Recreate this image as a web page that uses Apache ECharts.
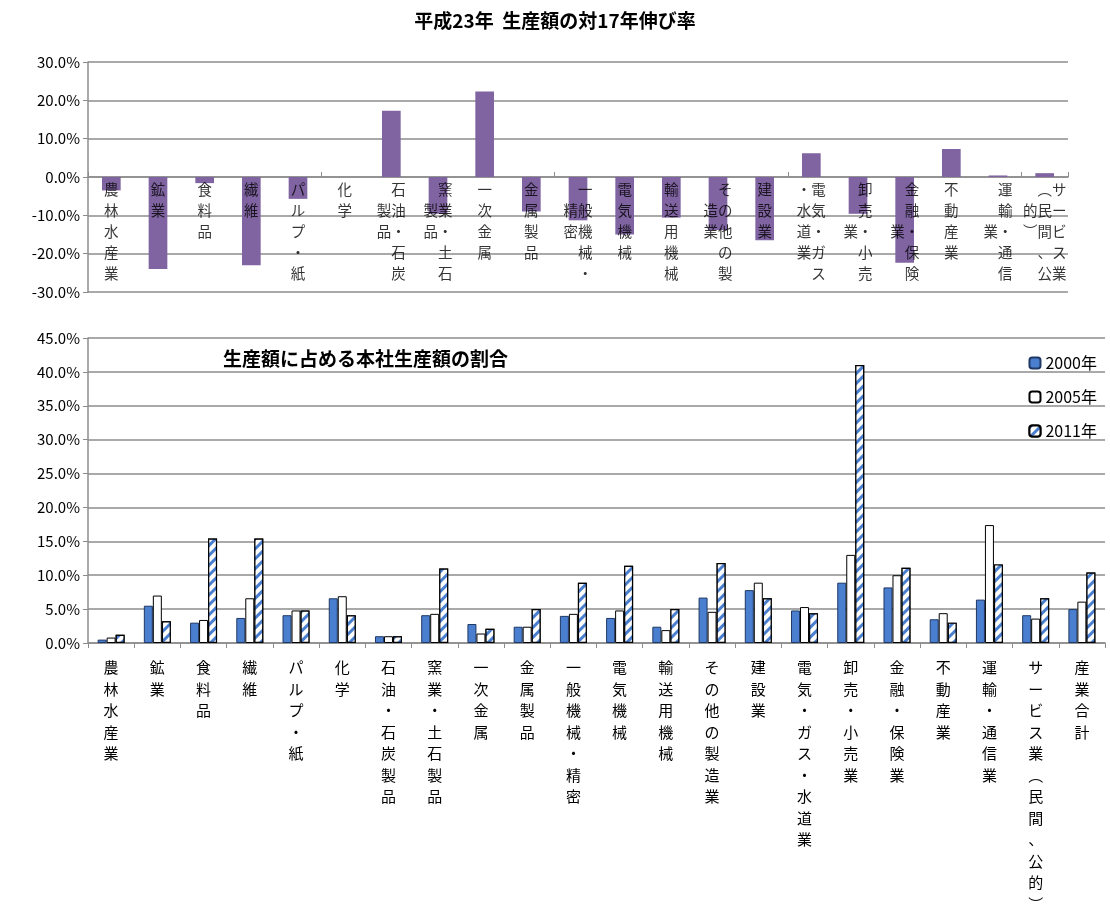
<!DOCTYPE html>
<html lang="ja">
<head>
<meta charset="UTF-8">
<title>生産額</title>
<script src="https://cdn.jsdelivr.net/npm/echarts@6/dist/echarts.min.js"></script>
<style>
  html, body { margin: 0; padding: 0; background: #fff; }
  #chart { width: 1110px; height: 915px; }
</style>
</head>
<body>
<div id="chart"></div>
<script>
    // 上段の分類 (21)
    var topCats = ['農林水産業', '鉱業', '食料品', '繊維', 'パルプ・紙', '化学', '石油・石炭製品', '窯業・土石製品',
        '一次金属', '金属製品', '一般機械・精密', '電気機械', '輸送用機械', 'その他の製造業', '建設業',
        '電気・ガス・水道業', '卸売・小売業', '金融・保険業', '不動産業', '運輸・通信業', 'サービス業︵民間、公的︶'];
    var growth = [-3.5, -24.0, -1.6, -23.0, -5.7, 0.0, 17.3, -9.6, 22.3, -9.0, -11.3, -15.0, -10.6, -13.8, -16.5,
        6.2, -9.6, -22.4, 7.3, 0.4, 1.0];

    // 下段の分類 (22)
    var botCats = topCats.concat(['産業合計']);
    var y2000 = [0.5, 5.5, 3.0, 3.7, 4.1, 6.6, 1.0, 4.1, 2.8, 2.4, 4.0, 3.7, 2.4, 6.7, 7.8, 4.8, 8.9, 8.2, 3.5, 6.4, 4.1, 5.0];
    var y2005 = [0.8, 7.0, 3.4, 6.6, 4.8, 6.9, 1.0, 4.3, 1.4, 2.4, 4.3, 4.8, 1.9, 4.6, 8.9, 5.3, 13.0, 10.0, 4.4, 17.4, 3.6, 6.1];
    var y2011 = [1.2, 3.2, 15.4, 15.4, 4.8, 4.1, 1.0, 11.0, 2.1, 5.0, 8.9, 11.4, 5.0, 11.8, 6.6, 4.4, 41.0, 11.1, 3.0, 11.6, 6.6, 10.4];

    var FONT = '"Noto Sans CJK JP", sans-serif';

    // 縦書き (5文字ごとに右から左へ列を折り返す、空きは透明な文字で埋める)
    function vertWrap(s) {
        var chars = Array.from(s);
        var per = 5;
        if (chars.length <= per) return chars.join('\n');
        var cols = [];
        for (var i = 0; i < chars.length; i += per) cols.push(chars.slice(i, i + per));
        var lines = [];
        for (var r = 0; r < per; r++) {
            var row = [];
            for (var c = cols.length - 1; c >= 0; c--) {
                var col = cols[c];
                var off = Math.floor((per - col.length) / 2);
                var ch = col[r - off];
                row.push(ch ? ch : '{h|口}');
            }
            lines.push(row.join(''));
        }
        return lines.join('\n');
    }
    function vert(s) { return Array.from(s).join('\n'); }

    var chart = echarts.init(document.getElementById('chart'));
    var gridLine = { show: true, lineStyle: { color: '#8c8c8c', width: 1.5 } };
    var axisLine = { show: true, lineStyle: { color: '#8c8c8c', width: 1.5 } };

    chart.setOption({
        animation: false,
        textStyle: { fontFamily: FONT },
        title: [
            { text: '平成23年  生産額の対17年伸び率', left: 'center', top: 6,
              textStyle: { fontSize: 19, fontWeight: 'bold', color: '#000', fontFamily: FONT } },
            { text: '生産額に占める本社生産額の割合', left: 218, top: 344,
              textStyle: { fontSize: 19, fontWeight: 'bold', color: '#000', fontFamily: FONT } }
        ],
        legend: {
            orient: 'vertical', right: 8, top: 350, itemGap: 18, itemWidth: 11, itemHeight: 11,
            textStyle: { fontSize: 16, color: '#000', fontFamily: FONT },
            data: ['2000年', '2005年', '2011年']
        },
        grid: [
            { left: 88, right: 42, top: 62, height: 230 },
            { left: 88, right: 5, top: 338, height: 316 }
        ],
        xAxis: [
            { type: 'category', gridIndex: 0, data: topCats,
              axisLine: { onZero: true, lineStyle: { color: '#8c8c8c', width: 1.5 } },
              axisTick: { show: true, inside: true, length: 5, lineStyle: { color: '#8c8c8c' } },
              axisLabel: { show: false } },
            { type: 'category', gridIndex: 1, data: botCats,
              axisLine: axisLine,
              axisTick: { show: true, length: 5, lineStyle: { color: '#8c8c8c' } },
              axisLabel: { interval: 0, formatter: vert, fontSize: 15, lineHeight: 21.5, color: '#000',
                           verticalAlign: 'top', margin: 14 } }
        ],
        yAxis: [
            { type: 'value', gridIndex: 0, min: -30, max: 30, interval: 10,
              axisLine: axisLine, splitLine: gridLine, axisTick: { show: true, lineStyle: { color: '#8c8c8c' } },
              axisLabel: { formatter: function (v) { return v.toFixed(1) + '%'; }, fontSize: 15, color: '#000' } },
            { type: 'value', gridIndex: 1, min: 0, max: 45, interval: 5,
              axisLine: axisLine, splitLine: gridLine, axisTick: { show: true, lineStyle: { color: '#8c8c8c' } },
              axisLabel: { formatter: function (v) { return v.toFixed(1) + '%'; }, fontSize: 15, color: '#000' } }
        ],
        series: [
            { type: 'bar', xAxisIndex: 0, yAxisIndex: 0, data: growth, barWidth: '40%',
              itemStyle: { color: '#8064a2' } },
            // 0%の線に沿った縦書きの分類名
            { type: 'scatter', xAxisIndex: 0, yAxisIndex: 0, symbolSize: 0, silent: true, z: 5,
              data: topCats.map(function (c) { return [c, 0]; }),
              label: { show: true, position: 'bottom', distance: 2,
                       formatter: function (p) { return vertWrap(p.value[0]); },
                       fontSize: 14.5, lineHeight: 21, color: '#000', fontFamily: FONT,
                       rich: { h: { color: 'rgba(0,0,0,0)', fontSize: 14.5, lineHeight: 21, fontFamily: FONT } } } },
            { name: '2000年', type: 'bar', xAxisIndex: 1, yAxisIndex: 1, data: y2000, barWidth: 9, barGap: '0%',
              itemStyle: { color: '#4a7fd0', borderColor: '#1f3864', borderWidth: 1 } },
            { name: '2005年', type: 'bar', xAxisIndex: 1, yAxisIndex: 1, data: y2005, barWidth: 9,
              itemStyle: { color: '#fff', borderColor: '#000', borderWidth: 1 } },
            { name: '2011年', type: 'bar', xAxisIndex: 1, yAxisIndex: 1, data: y2011, barWidth: 9,
              itemStyle: { color: '#fff', borderColor: '#000', borderWidth: 1.2,
                  decal: { symbol: 'rect', color: '#4a7fd0', backgroundColor: '#fff',
                           dashArrayX: [1, 0], dashArrayY: [3, 4], rotation: -Math.PI / 4 } } }
        ]
    });
</script>
</body>
</html>
